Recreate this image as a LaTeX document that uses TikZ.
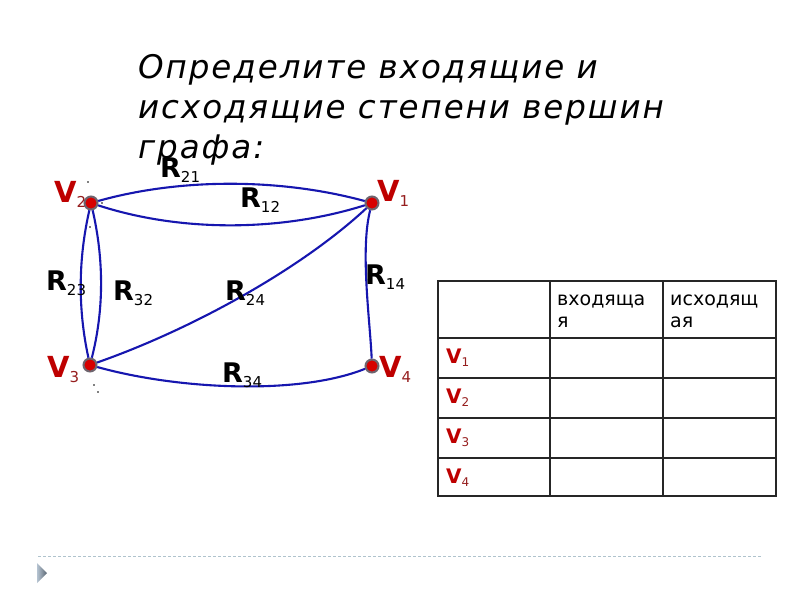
\documentclass[tikz,border=0pt]{standalone}
\usepackage{fontspec}
\setmainfont{DejaVu Sans}
\newfontfamily\titlefont[LetterSpace=6]{DejaVu Sans}
\definecolor{eblue}{RGB}{22,22,175}
\definecolor{vred}{RGB}{215,0,0}
\definecolor{vgray}{RGB}{110,100,110}
\definecolor{lred}{RGB}{190,0,0}
\definecolor{sred}{RGB}{150,30,30}
\definecolor{dline}{RGB}{175,195,205}
\definecolor{tri}{RGB}{150,170,190}
\newcommand{\Rlab}[1]{\fontsize{27}{27}\selectfont\textbf{R}\raisebox{-5pt}{\fontsize{15}{15}\selectfont #1}}
\newcommand{\Vlab}[1]{\fontsize{29}{29}\selectfont\textcolor{lred}{\textbf{V}}\raisebox{-5pt}{\fontsize{15}{15}\selectfont\textcolor{sred}{#1}}}
\newcommand{\Vtab}[1]{\fontsize{20}{20}\selectfont\textcolor{lred}{\textbf{V}}\raisebox{-3pt}{\fontsize{12}{12}\selectfont\textcolor{sred}{#1}}}
\begin{document}
\begin{tikzpicture}[x=1pt,y=-1pt,
  vert/.style={circle,fill=vred,draw=vgray,line width=2pt,minimum size=13pt,inner sep=0pt},
  edgeline/.style={draw=eblue,line width=2.1pt},
  lab/.style={anchor=base west,inner sep=0pt},
  tline/.style={draw=black!85,line width=1.2pt}]
\useasboundingbox[fill=white] (0,0) rectangle (800,600);
% title
\node[lab,align=left,font=\titlefont\fontsize{32.5}{40}\selectfont\itshape] (title) at (138,158)
  {Определите входящие и\\исходящие степени вершин\\графа:};
% vertices
\node[vert] (v1) at (372,203) {};
\node[vert] (v2) at (91,203) {};
\node[vert] (v3) at (90,365) {};
\node[vert] (v4) at (372,366) {};
% edges
\draw[edgeline] (v2) .. controls (180,178) and (280,178) .. (v1);
\draw[edgeline] (v2) .. controls (180,232) and (280,232) .. (v1);
\draw[edgeline] (v2) .. controls (78,260) and (78,310) .. (v3);
\draw[edgeline] (v2) .. controls (104,260) and (104,310) .. (v3);
\draw[edgeline] (v3) .. controls (190,330) and (300,270) .. (v1);
\draw[edgeline] (v3) .. controls (180,390) and (300,395) .. (v4);
\draw[edgeline] (v1) .. controls (360,250) and (370,320) .. (v4);
% edge labels
\node[lab] (r21) at (160,177) {\Rlab{21}};
\node[lab] (r12) at (240,207) {\Rlab{12}};
\node[lab] (r23) at (46,290) {\Rlab{23}};
\node[lab] (r32) at (113,300) {\Rlab{32}};
\node[lab] (r24) at (225,300) {\Rlab{24}};
\node[lab] (r14) at (365,284) {\Rlab{14}};
\node[lab] (r34) at (222,382) {\Rlab{34}};
% vertex labels
\node[lab] (l2) at (54,202) {\Vlab{2}};
\node[lab] (l1) at (377,201) {\Vlab{1}};
\node[lab] (l3) at (47,377) {\Vlab{3}};
\node[lab] (l4) at (379,377) {\Vlab{4}};
% small dots
\foreach \p in {(88,182),(102,203),(90,227),(94,385),(98,392)}
  \fill[black] \p circle (0.9pt);
% table
\draw[tline] (438,281) rectangle (776,496);
\foreach \xx in {550,663} \draw[tline] (\xx,281) -- (\xx,496);
\foreach \yy in {338,378,418,458} \draw[tline] (438,\yy) -- (776,\yy);
\node[lab,align=left,font=\fontsize{19}{22}\selectfont] (h1) at (557,327) {входяща\\я};
\node[lab,align=left,font=\fontsize{19}{22}\selectfont] (h2) at (670,327) {исходящ\\ая};
\node[lab] (t1) at (446,363) {\Vtab{1}};
\node[lab] (t2) at (446,403) {\Vtab{2}};
\node[lab] (t3) at (446,443) {\Vtab{3}};
\node[lab] (t4) at (446,483) {\Vtab{4}};
% bottom decoration
\draw[dline,dashed,line width=0.8pt,dash pattern=on 3pt off 2pt] (38,556) -- (762,556);
\shade[left color=tri!70!white,right color=tri!60!black] (37,563) -- (47,573) -- (37,583) -- cycle;
\end{tikzpicture}
\end{document}
